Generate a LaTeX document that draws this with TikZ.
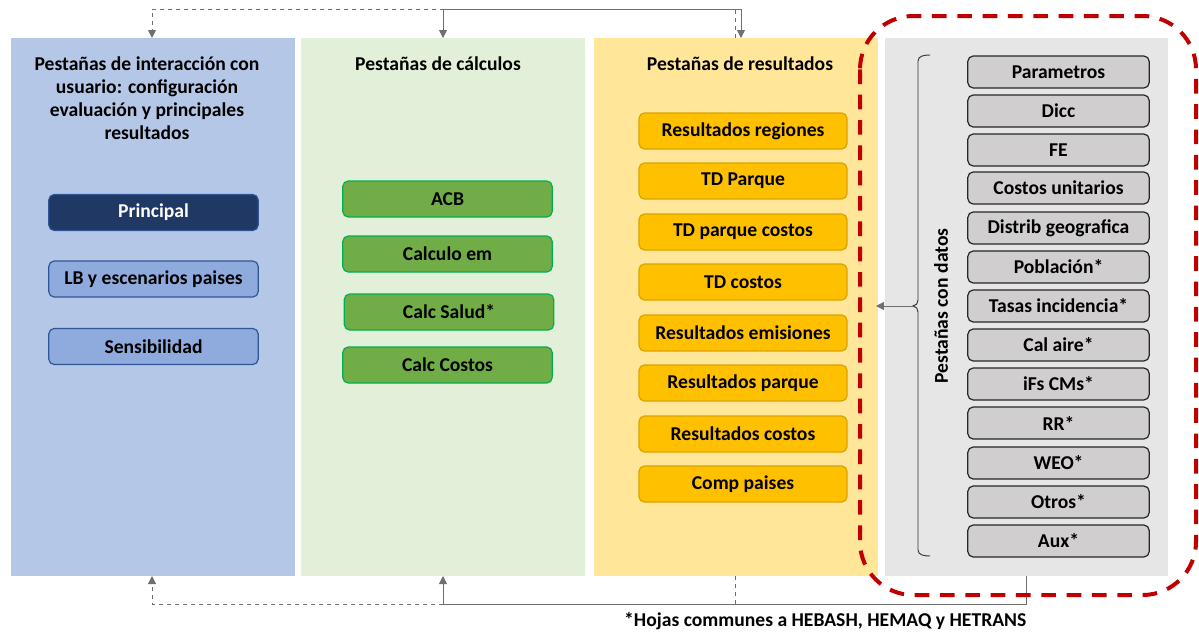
\documentclass[tikz,border=0pt]{standalone}
\usepackage{fontspec}
\setmainfont{Carlito}
\usetikzlibrary{arrows.meta}
\definecolor{pblue}{HTML}{B4C7E7}
\definecolor{pgreen}{HTML}{E2F0D9}
\definecolor{pyellow}{HTML}{FFE699}
\definecolor{pgray}{HTML}{E7E6E6}
\definecolor{navy}{HTML}{203864}
\definecolor{midblue}{HTML}{8FAADC}
\definecolor{edgeblue}{HTML}{2F5597}
\definecolor{leaf}{HTML}{70AD47}
\definecolor{brightgreen}{HTML}{00B050}
\definecolor{amber}{HTML}{FFC000}
\definecolor{amberedge}{HTML}{D9A400}
\definecolor{stone}{HTML}{D0CECE}
\definecolor{darkred}{HTML}{C00000}
\definecolor{link}{HTML}{6F6F6F}
\newcommand{\labelfont}{\bfseries\fontsize{14.7}{17.25}\selectfont}
\tikzset{
  title/.style={font=\labelfont, align=center, text=black},
  tab/.style={rounded corners=4pt, line width=0.9pt, minimum height=27pt,
              font=\labelfont, inner sep=0pt},
  bluetab/.style={tab, fill=midblue, draw=edgeblue, minimum width=157pt},
  navytab/.style={tab, fill=navy, draw=edgeblue, text=white, minimum width=157pt},
  greentab/.style={tab, fill=leaf, draw=brightgreen, minimum width=157pt},
  ambertab/.style={tab, fill=amber, draw=amberedge, minimum width=156pt},
  graytab/.style={tab, fill=stone, draw=black!85, minimum width=136pt, minimum height=24pt},
  link/.style={draw=link, line width=0.6pt},
  linktip/.style={-{Triangle[length=6pt,width=6pt]}},
}
\begin{document}
\begin{tikzpicture}[x=0.75pt, y=-0.75pt]
\useasboundingbox (0,0) rectangle (1199,632);

% column panels
\fill[pblue]   (11,38)  rectangle (295,576);
\fill[pgreen]  (301,38) rectangle (585,576);
\fill[pyellow] (594,38) rectangle (878,576);
\fill[pgray]   (885,38) rectangle (1168,576);

% panel anchors
\coordinate (blueTop)   at (152,38);
\coordinate (blueBot)   at (152,576);
\coordinate (greenTop)  at (443,38);
\coordinate (greenBot)  at (443,576);
\coordinate (yellowTopA) at (735,38);
\coordinate (yellowTopB) at (741,38);
\coordinate (yellowBot) at (735,576);
\coordinate (grayBot)   at (1026,576);
\coordinate (topRail)   at (0,9);
\coordinate (botRail)   at (0,604);

% titles
\node[title] (tBlue) at (147,98.5) {Pestañas de interacción con\\usuario: configuración\\evaluación y principales\\resultados};
\node[title] (tGreen) at (438,64) {Pestañas de cálculos};
\node[title] (tYellow) at (740,64) {Pestañas de resultados};

% user tabs
\node[navytab] (principal) at (153.5,212.5) {Principal};
\node[bluetab] (lb) at (153.5,279) {LB y escenarios paises};
\node[bluetab] (sens) at (153.5,346.5) {Sensibilidad};

% calculation tabs
\node[greentab] (acb) at (447.5,199) {ACB};
\node[greentab] (calcem) at (447.5,254) {Calculo em};
\node[greentab] (salud) at (449,312) {Calc Salud*};
\node[greentab] (costos) at (447.5,365) {Calc Costos};

% result tabs
\foreach \lab/\yy [count=\i] in {Resultados regiones/131, TD Parque/181, TD parque costos/232,
    TD costos/282, Resultados emisiones/333, Resultados parque/383,
    Resultados costos/434, Comp paises/484}
  \node[ambertab] (res\i) at (743,\yy) {\lab};

% data tabs
\foreach \lab/\yy [count=\i] in {Parametros/72, Dicc/111, FE/150, Costos unitarios/188,
    Distrib geografica/228, Población*/267, Tasas incidencia*/306, Cal aire*/345,
    iFs CMs*/384, RR*/423, WEO*/463, Otros*/502, Aux*/541}
  \node[graytab] (dat\i) at (1058.5,\yy) {\lab};

% brace grouping the data tabs
\coordinate (braceTip) at (913,306);
\draw[black!80, line width=0.7pt]
  (930,55) to[out=180,in=90] (918,61) -- (918,300)
  to[out=-90,in=0] (braceTip) to[out=0,in=90] (918,312) -- (918,550)
  to[out=-90,in=180] (930,556);
\node[font=\labelfont, rotate=90] (tGray) at (941,306) {Pestañas con datos};
\coordinate (dataOut) at (876,306);
\draw[link, linktip] (braceTip) -- (dataOut);

% top links
\draw[link, dashed, linktip] (yellowTopA) -- (yellowTopA |- topRail) -| (blueTop);
\draw[link, {Triangle[length=6pt,width=6pt]}-{Triangle[length=6pt,width=6pt]}]
  (greenTop) -- (greenTop |- topRail) -| (yellowTopB);

% bottom links
\draw[link, dashed, linktip] (yellowBot) -- (yellowBot |- botRail) -| (blueBot);
\draw[link, linktip] (grayBot) -- (grayBot |- botRail) -| (greenBot);

% highlight around the data column
\draw[darkred, line width=3pt, dash pattern=on 11pt off 8pt, rounded corners=40pt]
  (860,16) rectangle (1196,595);

% footnote
\node[font=\labelfont, anchor=east] (note) at (1031,621)
  {*Hojas communes a HEBASH, HEMAQ y HETRANS};
\end{tikzpicture}
\end{document}
